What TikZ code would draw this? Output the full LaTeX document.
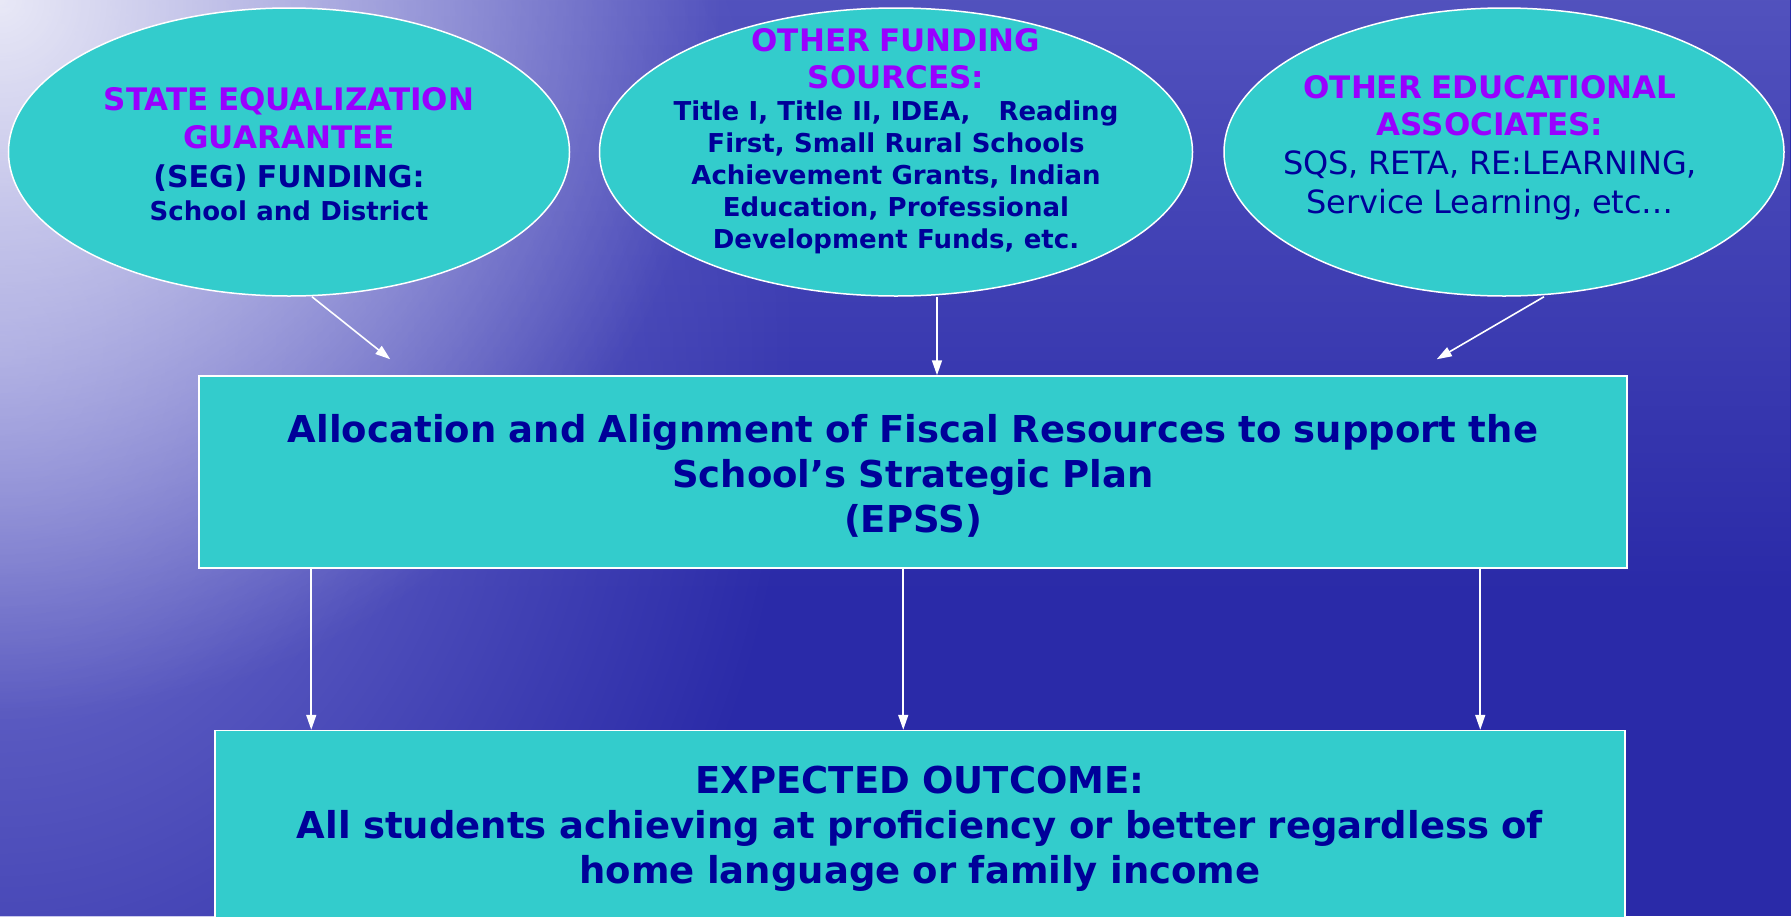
\documentclass[tikz,border=0pt]{standalone}
\usepackage{fontspec}
\setmainfont{DejaVu Sans}
\usepackage{tikz}
\usetikzlibrary{arrows.meta,calc,fadings,shapes.geometric}
\usetikzlibrary{positioning}

\definecolor{aqua}{RGB}{51,204,204}
\definecolor{hotpurple}{RGB}{153,0,255}
\definecolor{inkblue}{RGB}{0,0,153}
\definecolor{seadeep}{RGB}{42,42,168}
\definecolor{seatop}{RGB}{92,92,195}
\definecolor{seaside}{RGB}{120,120,208}

\tikzfading[name=glowfade, inner color=transparent!0, outer color=transparent!100]

\newcommand{\heading}[1]{{\color{hotpurple}\fontsize{31}{37.5}\selectfont #1\par}}

\tikzset{
    bubble/.style={
           ellipse,
           draw=white, line width=1.5pt,
           fill=aqua,
           minimum height=288pt,
           inner sep=0pt,
           },
    bubbletext/.style={
           anchor=center,
           text width=540pt,
           align=center,
           inner sep=0pt,
           text=inkblue,
           font=\bfseries\fontsize{28}{34}\selectfont,
           },
    plan/.style={
           rectangle,
           draw=white, line width=1.5pt,
           fill=aqua,
           inner sep=0pt,
           text width=1380pt,
           align=center,
           text=inkblue,
           font=\bfseries\fontsize{37}{45}\selectfont,
           },
    flow/.style={->, draw=white, line width=1.6pt},
}

\begin{document}
\begin{tikzpicture}[x=1pt,y=-1pt,>={Triangle[length=15pt,width=10pt]}]

    % water background
    \path[use as bounding box] (0,0) rectangle (1791,916);
    \begin{scope}
        \clip (0,0) rectangle (1791,916);
        \fill[seadeep] (0,0) rectangle (1791,916);
        \fill[seatop, path fading=south] (0,-150) rectangle (1791,600);
        \fill[seaside, path fading=glowfade] (0,350) ellipse (800 and 950);
        \fill[white, opacity=0.85, path fading=glowfade] (0,0) circle (720);
    \end{scope}

    % funding sources
    \node[bubble,minimum width=561pt] (seg) at (289,152) {};
    \node[bubble,minimum width=593pt,right of=seg,node distance=607pt] (fund) {};
    \node[bubble,minimum width=560pt,right of=fund,node distance=608pt] (assoc) {};

    \node[bubbletext,yshift=-2pt] (segtxt) at (seg) {
        \heading{STATE EQUALIZATION\\GUARANTEE}
        {\fontsize{30}{39}\selectfont (SEG) FUNDING:\par}
        {\fontsize{26}{33}\selectfont School and District\par}};
    \node[bubbletext,yshift=11pt] (fundtxt) at (fund) {
        \heading{OTHER FUNDING\\SOURCES:}
        {\fontsize{26}{32}\selectfont Title I, Title II, IDEA,\ \ \ Reading\\
         First, Small Rural Schools\\Achievement Grants, Indian\\
         Education, Professional\\Development Funds, etc.\par}};
    \node[bubbletext,xshift=-14pt,yshift=4pt] (assoctxt) at (assoc) {
        \heading{OTHER EDUCATIONAL\\ASSOCIATES:}
        {\mdseries\fontsize{32}{39}\selectfont SQS, RETA, RE:LEARNING,\\
         Service Learning, etc…\par}};

    % plan and outcome
    \node[plan,minimum width=1428pt,minimum height=192pt] (alloc) at (913,472)
        {\rule{0pt}{36pt}Allocation and Alignment of Fiscal Resources to support the\\
         School’s Strategic Plan\\(EPSS)};
    \node[plan,minimum width=1410pt,minimum height=189pt,below=161pt of alloc,xshift=7pt] (outcome)
        {\rule{0pt}{35pt}EXPECTED OUTCOME:\\
         All students achieving at proficiency or better regardless of\\
         home language or family income};

    \coordinate (segtip) at ($(alloc.north west)+(192,-16)$);
    \coordinate (assoctip) at ($(alloc.north east)+(-191,-16)$);
    \coordinate (fundfoot) at ($(fund.south)+(41,0)$);

    \path (seg.south) ++(23,0) edge[flow] (segtip);
    \path (fundfoot) edge[flow] (fundfoot |- alloc.north);
    \path (assoc.south) ++(40,0) edge[flow] (assoctip);

    \foreach \dx in {113,705,1282}{
        \coordinate (drop\dx) at ($(alloc.south west)+(\dx,0)$);
        \path (drop\dx) edge[flow] (drop\dx |- outcome.north);
    }

\end{tikzpicture}
\end{document}
